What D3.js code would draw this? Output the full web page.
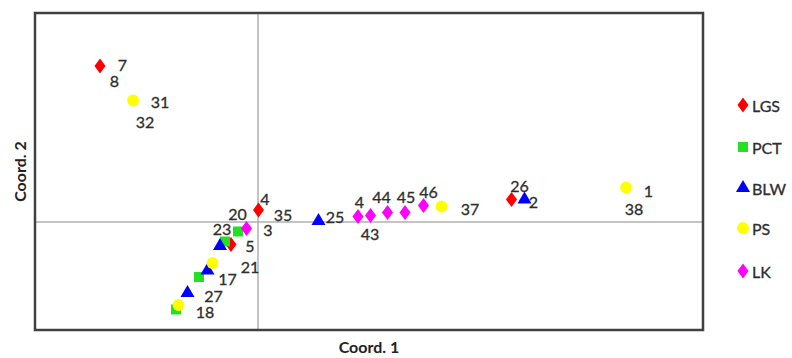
<!DOCTYPE html>
<html>
<head>
<meta charset="utf-8">
<script src="https://cdn.jsdelivr.net/npm/d3@7"></script>
<style>
  body { margin: 0; background: #fff; }
  svg { display: block; }
</style>
</head>
<body>
<div id="chart"></div>
<script>
// groups and their points, [coord1, coord2]
var groups = ["LGS", "PCT", "BLW", "PS", "LK"];
var colors = ["#ff0000", "#22e022", "#0000ff", "#ffff00", "#ff00ff"];
var shapes = [d3.symbolDiamond, d3.symbolSquare, d3.symbolTriangle, d3.symbolCircle, d3.symbolDiamond];

var lgs = [[-0.316, 0.312], [0.001, 0.024], [-0.054, -0.045], [0.507, 0.045]];
var pct = [[-0.040, -0.019], [-0.066, -0.039], [-0.118, -0.110], [-0.164, -0.175]];
var blw = [[-0.076, -0.048], [-0.101, -0.097], [-0.141, -0.142], [0.121, 0.002], [0.533, 0.045]];
var ps  = [[-0.250, 0.243], [-0.091, -0.082], [-0.159, -0.166], [0.367, 0.031], [0.736, 0.069]];
var lk  = [[-0.023, -0.013], [0.200, 0.011], [0.225, 0.013], [0.259, 0.019], [0.294, 0.019], [0.331, 0.033]];
var series = [lgs, pct, blw, ps, lk];

// sample labels placed in coordinate space
var labels = [
  ["7", -0.271, 0.316], ["8", -0.287, 0.284], ["31", -0.196, 0.241], ["32", -0.226, 0.201],
  ["4", 0.014, 0.048], ["35", 0.050, 0.015], ["3", 0.020, -0.015], ["20", -0.041, 0.017],
  ["23", -0.072, -0.013], ["5", -0.016, -0.047], ["21", -0.016, -0.088], ["17", -0.061, -0.112],
  ["27", -0.089, -0.146], ["18", -0.106, -0.179], ["25", 0.154, 0.011], ["4", 0.203, 0.041],
  ["43", 0.224, -0.023], ["44", 0.247, 0.051], ["45", 0.296, 0.051], ["46", 0.341, 0.061],
  ["37", 0.424, 0.027], ["26", 0.523, 0.074], ["2", 0.551, 0.041], ["1", 0.781, 0.064],
  ["38", 0.752, 0.027]
];

var xDomain = [-0.446, 0.89];
var yDomain = [-0.216, 0.418];

var width = 792, height = 358;
var box = {left: 35, top: 13, right: 703, bottom: 330};
var font = "Lato, 'Open Sans', sans-serif";

var svg = d3.select("#chart").append("svg")
  .attr("width", width)
  .attr("height", height);

var x = d3.scaleLinear().domain(xDomain).range([box.left, box.right]);
var y = d3.scaleLinear().domain(yDomain).range([box.bottom, box.top]);

// zero lines
svg.append("line")
  .attr("x1", x(0)).attr("x2", x(0))
  .attr("y1", box.top).attr("y2", box.bottom)
  .attr("stroke", "#b0b0b0").attr("stroke-width", 1.5);
svg.append("line")
  .attr("x1", box.left).attr("x2", box.right)
  .attr("y1", y(0)).attr("y2", y(0))
  .attr("stroke", "#b0b0b0").attr("stroke-width", 1.5);

// frame
svg.append("rect")
  .attr("x", box.left).attr("y", box.top)
  .attr("width", box.right - box.left)
  .attr("height", box.bottom - box.top)
  .attr("fill", "none")
  .attr("stroke", "#404040")
  .attr("stroke-width", 2.5);

var symSize = [80, 100, 85, 110, 80];

series.forEach(function(pts, i) {
  svg.append("g").selectAll("path")
    .data(pts)
    .enter()
    .append("path")
    .attr("d", d3.symbol().type(shapes[i]).size(symSize[i]))
    .attr("transform", function(d) {
      return "translate(" + x(d[0]) + "," + y(d[1]) + ")" + (i == 0 || i == 4 ? " scale(1.15,0.9)" : "");
    })
    .attr("fill", colors[i]);
});

svg.append("g").selectAll("text")
  .data(labels)
  .enter()
  .append("text")
  .attr("x", function(d) { return x(d[1]); })
  .attr("y", function(d) { return y(d[2]); })
  .attr("text-anchor", "middle")
  .attr("dominant-baseline", "central")
  .attr("font-family", font)
  .attr("font-size", "16px")
  .attr("fill", "#2e2e2e")
  .attr("stroke", "#2e2e2e")
  .attr("stroke-width", 0.3)
  .text(function(d) { return d[0]; });

// axis titles
svg.append("text")
  .attr("x", (box.left + box.right) / 2)
  .attr("y", 346)
  .attr("text-anchor", "middle")
  .attr("dominant-baseline", "central")
  .attr("font-family", font)
  .attr("font-weight", "bold")
  .attr("font-size", "16px")
  .attr("fill", "#222")
  .text("Coord. 1");
svg.append("text")
  .attr("transform", "translate(19," + ((box.top + box.bottom) / 2) + ") rotate(-90)")
  .attr("text-anchor", "middle")
  .attr("dominant-baseline", "central")
  .attr("font-family", font)
  .attr("font-weight", "bold")
  .attr("font-size", "16px")
  .attr("fill", "#222")
  .text("Coord. 2");

// legend
var legendY = [105, 147, 188, 228, 271];
var legend = svg.append("g").selectAll("g")
  .data(groups)
  .enter()
  .append("g")
  .attr("transform", function(d, i) { return "translate(743," + legendY[i] + ")"; });
legend.append("path")
  .attr("d", function(d, i) { return d3.symbol().type(shapes[i]).size(symSize[i])(); })
  .attr("transform", function(d, i) { return (i == 0 || i == 4) ? "scale(1.15,0.9)" : null; })
  .attr("fill", function(d, i) { return colors[i]; });
legend.append("text")
  .attr("x", 9)
  .attr("dominant-baseline", "central")
  .attr("font-family", font)
  .attr("font-size", "16px")
  .attr("fill", "#2e2e2e")
  .attr("stroke", "#2e2e2e")
  .attr("stroke-width", 0.3)
  .text(function(d) { return d; });
</script>
</body>
</html>
